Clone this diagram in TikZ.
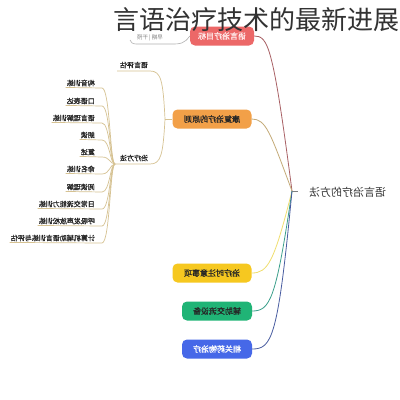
\documentclass[tikz,border=0pt]{standalone}
\usepackage{fontspec}
\usepackage{graphicx}
\newfontfamily\cjk{Noto Sans CJK SC}
\newfontfamily\cjkb[FakeBold=1.2]{Noto Sans CJK SC}
\newcommand\mirtxt[1]{\reflectbox{#1}}
\definecolor{redc}{RGB}{236,104,104}
\definecolor{orangec}{RGB}{242,160,72}
\definecolor{yellowc}{RGB}{246,200,32}
\definecolor{greenc}{RGB}{32,180,118}
\definecolor{bluec}{RGB}{70,104,232}
\definecolor{redl}{RGB}{168,96,100}
\definecolor{orangel}{RGB}{196,170,120}
\definecolor{yellowl}{RGB}{240,222,110}
\definecolor{greenl}{RGB}{60,160,140}
\definecolor{bluel}{RGB}{72,92,160}
\definecolor{tanl}{RGB}{214,194,146}
\definecolor{titlec}{RGB}{50,50,50}
\tikzset{
  branch/.style={rounded corners=5pt, minimum height=19pt, inner sep=1pt,
    font=\cjkb\fontsize{8}{9}\selectfont, text=black!85},
  leaf/.style={inner sep=1pt, font=\cjkb\fontsize{7}{8}\selectfont, text=black!85},
  conn/.style={line width=0.8pt},
  tanline/.style={draw=tanl, line width=0.7pt}
}
\begin{document}
\begin{tikzpicture}[x=1pt,y=-1pt]
\useasboundingbox (0,0) rectangle (400,400);
\fill[white] (0,0) rectangle (400,400);

% root
\coordinate (root) at (292,191);
\node[anchor=west, inner sep=0pt, font=\cjk\fontsize{11}{12}\selectfont, text=black!80] (roottxt) at (309,192) {\mirtxt{语言治疗的方法}};
\draw[gray, line width=0.6pt] (root) -- (298,191);

% main branches
\node[branch, fill=redc, minimum width=64pt, text=white!92!red] (red) at (222,36) {\mirtxt{语言治疗目标}};
\node[branch, fill=orangec, minimum width=79pt] (orange) at (212,119) {\mirtxt{康复治疗的原则}};
\node[branch, fill=yellowc, minimum width=79pt] (yellow) at (212,273) {\mirtxt{治疗时注意事项}};
\node[branch, fill=greenc, minimum width=70pt] (green) at (217,311) {\mirtxt{辅助交流设备}};
\node[branch, fill=bluec, minimum width=70pt, text=white] (blue) at (217,349) {\mirtxt{相关药物治疗}};

\draw[conn, redl] (root) .. controls (273,45) and (268,36) .. (red.east);
\draw[conn, orangel] (root) .. controls (270,132) and (266,119) .. (orange.east);
\draw[conn, yellowl] (root) .. controls (274,262) and (268,273) .. (yellow.east);
\draw[conn, greenl] (root) .. controls (276,300) and (270,311) .. (green.east);
\draw[conn, bluel] (root) .. controls (278,338) and (272,349) .. (blue.east);

% red child
\node[leaf, font=\cjk\fontsize{5.5}{6}\selectfont, text=gray] (rc) at (150,38) {\mirtxt{早期 | 干预}};
\draw[draw=gray!60, line width=0.6pt] (red.west) .. controls (184,44) and (180,44) .. (172,44) -- (136,44) .. controls (132,44) and (131,42) .. (130,40);

% orange children
\coordinate (oj) at (165,119);
\draw[tanline] (orange.west) -- (oj);
\node[leaf] (pg) at (134,65) {\mirtxt{语言评估}};
\node[leaf] (fa) at (134,158) {\mirtxt{治疗方法}};
\draw[tanline] (oj) .. controls (163,80) and (161,71) .. (150,71) -- (117,71);
\draw[tanline] (oj) .. controls (163,155) and (161,164) .. (150,164) -- (115,164);
\coordinate (stem) at (115,164);

% list items
\foreach \nm/\yy/\txt in {
  i1/83/构音训练,
  i2/101/口语表达,
  i3/118/语言理解训练,
  i4/135/朗读,
  i5/152/复述,
  i6/169/命名训练,
  i7/187/阅读理解,
  i8/204/日常交流能力训练,
  i9/221/呼吸发声放松训练,
  i10/238/计算机辅助语言训练与评估}{
  \node[leaf, anchor=east] (\nm) at (96,\yy) {\mirtxt{\txt}};
  \draw[tanline] (stem) .. controls (110,164) and (110,\yy+5) .. (102,\yy+5) -- (\nm.south west);
}

% title
\node[anchor=west, inner sep=0pt, font=\cjk\fontsize{26}{28}\selectfont, text=titlec] (title) at (113,20) {言语治疗技术的最新进展};
\end{tikzpicture}
\end{document}
